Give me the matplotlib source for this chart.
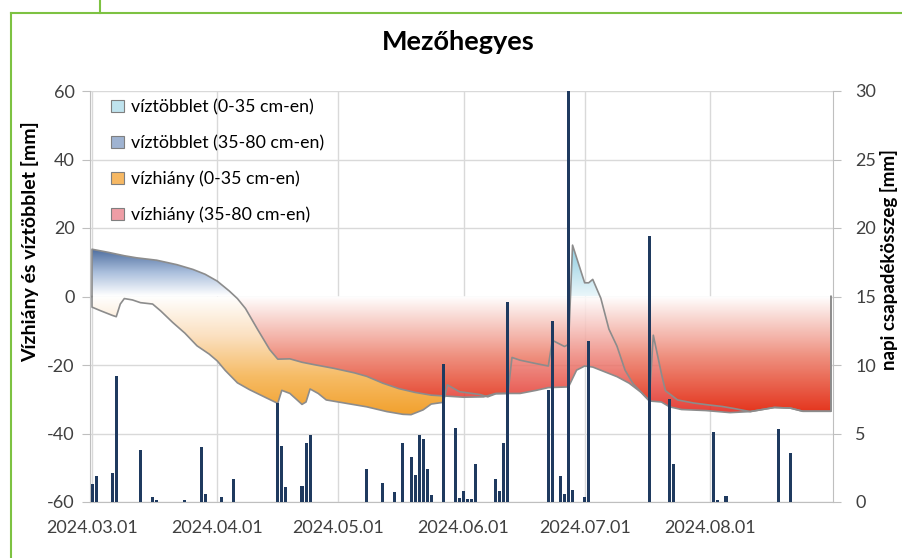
import numpy as np
import matplotlib
matplotlib.use("Agg")
import matplotlib.pyplot as plt
import matplotlib.dates as mdates
from matplotlib.colors import LinearSegmentedColormap
from matplotlib.patches import PathPatch, Patch
from matplotlib.lines import Line2D

plt.rcParams['font.family'] = ['Lato', 'DejaVu Sans']
plt.rcParams['axes.unicode_minus'] = False

# napok 2024.03.01-tol szamolva
start = np.datetime64('2024-03-01')

# talajnedvesseg 0-35 cm (pozitiv = tobblet, negativ = hiany) [mm]
l1_day = [0, 2, 5, 6, 7, 8, 10, 12, 15, 17, 20, 23, 26, 29, 31, 33, 36, 39, 43, 46,
          47, 49, 52, 53, 54, 56, 58, 63, 68, 73, 77, 79, 82, 84, 87, 88, 91, 96, 98,
          100, 103, 104, 106, 110, 113, 114, 115, 117, 118, 119, 122, 123, 124, 126,
          128, 130, 132, 134, 137, 138, 139, 141, 142, 145, 149, 153, 156, 159, 163,
          166, 169, 173, 176, 183]
l1_val = [-3.1, -4.1, -5.5, -5.9, -2.2, -0.6, -1.0, -1.8, -2.2, -4.2, -7.6, -10.7, -14.4,
          -16.8, -18.8, -21.6, -25.2, -27.2, -29.5, -31.2, -27.4, -28.3, -31.5, -30.8,
          -27.0, -28.3, -30.2, -31.2, -32.2, -33.6, -34.4, -34.5, -33.1, -31.4, -30.9,
          -25.8, -27.8, -28.6, -29.3, -28.4, -28.3, -17.8, -18.6, -19.6, -20.3, -12.8,
          -13.4, -14.6, -14.0, 15.0, 4.0, 4.0, 5.0, -0.5, -9.5, -14.5, -21.5, -25.5,
          -29.2, -30.3, -11.3, -22.5, -27.5, -30.2, -31.1, -31.7, -32.1, -32.7, -33.6,
          -33.0, -32.4, -32.6, -33.5, -33.5]

# talajnedvesseg 35-80 cm [mm]
l2_day = [0, 4, 8, 11, 16, 21, 25, 28, 31, 34, 36, 38, 41, 44, 46, 49, 52, 55, 60, 65,
          68, 72, 76, 80, 84, 88, 92, 97, 100, 106, 110, 113, 118, 120, 122, 124, 127,
          130, 133, 136, 138, 141, 143, 146, 152, 158, 163, 169, 173, 176, 183]
l2_val = [13.8, 12.9, 11.9, 11.3, 10.6, 9.3, 7.9, 6.5, 4.5, 1.6, -0.6, -3.5, -9.6, -15.5,
          -18.3, -18.2, -19.2, -19.9, -21.0, -22.3, -23.3, -25.3, -26.9, -28.0, -28.8,
          -29.1, -29.4, -29.3, -28.3, -28.3, -27.4, -26.6, -26.4, -21.5, -20.3, -20.6,
          -22.0, -23.4, -25.3, -28.0, -30.5, -30.8, -32.2, -33.0, -33.3, -33.9, -33.6,
          -32.4, -32.6, -33.5, -33.5]

# napi csapadek [mm]
prec_day = [0, 1, 5, 6, 12, 15, 16, 23, 27, 28, 32, 35, 46, 47, 48, 52, 53, 54, 68, 72,
            75, 77, 79, 80, 81, 82, 83, 84, 87, 90, 91, 92, 93, 94, 95, 100, 101, 102,
            103, 113, 114, 116, 117, 118, 119, 122, 123, 138, 143, 144, 154, 155, 157,
            170, 173]
prec_mm = [1.3, 1.9, 2.1, 9.2, 3.8, 0.35, 0.15, 0.15, 4.0, 0.6, 0.4, 1.7, 7.2, 4.1, 1.1,
           1.2, 4.3, 4.9, 2.4, 1.4, 0.7, 4.3, 3.3, 2.0, 4.9, 4.6, 2.4, 0.5, 10.1, 5.4, 0.3,
           0.8, 0.2, 0.2, 2.8, 1.65, 0.8, 4.3, 14.6, 8.2, 13.2, 1.9, 0.6, 30.0, 0.9, 0.35,
           11.75, 19.4, 7.5, 2.8, 5.1, 0.15, 0.45, 5.3, 3.55]

month_ticks = ['2024-03-01', '2024-04-01', '2024-05-01', '2024-06-01', '2024-07-01', '2024-08-01']
labels = ['víztöbblet (0-35 cm-en)', 'víztöbblet (35-80 cm-en)',
          'vízhiány (0-35 cm-en)', 'vízhiány (35-80 cm-en)']

x0 = mdates.date2num(start)
x1 = x0 + np.array(l1_day)
x2 = x0 + np.array(l2_day)
y1 = np.array(l1_val)
y2 = np.array(l2_val)


def gradient_area(ax, x, y, ylo, yhi, colors, alpha=1.0, z=1):
    poly = ax.fill_between(x, 0, y, facecolor='none', edgecolor='none', lw=0)
    clip = PathPatch(poly.get_paths()[0], transform=ax.transData,
                     facecolor='none', edgecolor='none')
    ax.add_patch(clip)
    cmap = LinearSegmentedColormap.from_list('g', colors)
    grad = np.linspace(0, 1, 256).reshape(-1, 1)
    im = ax.imshow(grad, cmap=cmap, extent=[x.min(), x.max(), ylo, yhi],
                   origin='upper', aspect='auto', alpha=alpha, zorder=z)
    im.set_clip_path(clip)


fig = plt.figure(figsize=(9.03, 5.58), dpi=100)
ax = fig.add_axes([90 / 903, 56 / 558, 743 / 903, 411 / 558])

gradient_area(ax, x1, y1, -35, 0, ['#FFFFFF', '#FBE0C0', '#F6BC66', '#F2A02C'])
gradient_area(ax, x1, y1, 0, 15, ['#8ACBDF', '#EAF6FA'])
gradient_area(ax, x2, y2, 0, 14, ['#4A6A9C', '#A9BEDC', '#FFFFFF'])
gradient_area(ax, x2, y2, -34, 0, ['#FFFFFF', '#EE8A80', '#E2231A'], alpha=0.87, z=2)

ax.plot(np.r_[x1[0], x1, x1[-1]], np.r_[0, y1, 0], color='#8C8C8C', lw=1.2, zorder=3)
ax.plot(np.r_[x2[0], x2, x2[-1]], np.r_[0, y2, 0], color='#8C8C8C', lw=1.2, zorder=3)

ax.set_xlim(x0 - 0.5, x0 + 183.5)
ax.set_ylim(-60, 60)
ax.set_yticks(range(-60, 61, 20))
ax.set_xticks(mdates.date2num(np.array(month_ticks, dtype='datetime64[D]')))
ax.xaxis.set_major_formatter(mdates.DateFormatter('%Y.%m.%d'))
ax.grid(color='#D9D9D9', lw=1)
ax.set_axisbelow(True)
for s in ['top', 'right']:
    ax.spines[s].set_visible(False)
for s in ['left', 'bottom']:
    ax.spines[s].set_color('#BFBFBF')
ax.tick_params(axis='y', length=6, color='#BFBFBF', labelsize=13, labelcolor='#404040', pad=5)
ax.tick_params(axis='x', length=0, labelsize=13, labelcolor='#404040', pad=13)

ax2 = ax.twinx()
ax2.bar(x0 + np.array(prec_day), prec_mm, width=0.75, color='#1F3A5F', zorder=3)
ax2.set_ylim(0, 30)
ax2.set_yticks(range(0, 31, 5))
for s in ['top', 'left', 'bottom']:
    ax2.spines[s].set_visible(False)
ax2.spines['right'].set_color('#BFBFBF')
ax2.tick_params(axis='y', length=6, color='#BFBFBF', labelsize=13, labelcolor='#404040', pad=10)
ax2.set_xlim(x0 - 0.5, x0 + 183.5)

handles = [Patch(facecolor=c, edgecolor='#7F7F7F', lw=0.8)
           for c in ['#BFE3EE', '#9FB3D1', '#F6B863', '#EE9DA5']]
ax.legend(handles, labels, loc='upper left', bbox_to_anchor=(0.019, 0.997), frameon=False,
          fontsize=12.8, handlelength=0.7, handleheight=0.7, handletextpad=0.4,
          labelspacing=1.1, borderaxespad=0)

fig.text(458 / 903, 1 - 42 / 558, 'Mezőhegyes', ha='center', va='center',
         fontsize=19.5, fontweight='bold')
fig.text(30 / 903, 1 - 242 / 558, 'Vízhiány és víztöbblet [mm]', rotation=90,
         ha='center', va='center', fontsize=14, fontweight='bold')
fig.text(889 / 903, 1 - 260 / 558, 'napi csapadékösszeg [mm]', rotation=90,
         ha='center', va='center', fontsize=13.5, fontweight='bold')

green = '#7DC242'
gy = 1 - 12.5 / 558
fig.add_artist(Line2D([11.5 / 903, 11.5 / 903], [0, gy], color=green, lw=1.5))
fig.add_artist(Line2D([11.5 / 903, 1], [gy, gy], color=green, lw=1.5))
fig.add_artist(Line2D([100 / 903, 100 / 903], [gy, 1], color=green, lw=1.5))

fig.savefig('out.png', dpi=100)
